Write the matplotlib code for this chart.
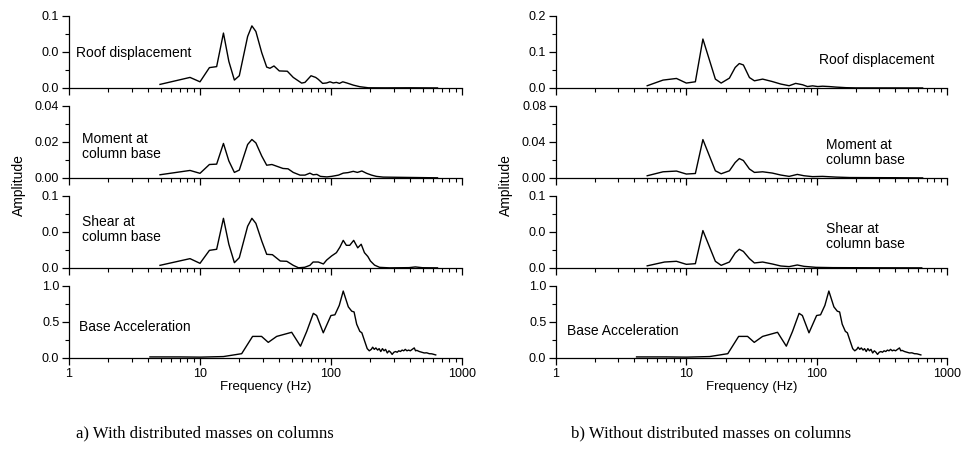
import matplotlib as mpl
mpl.use('Agg')
import matplotlib.pyplot as plt
import numpy as np
from matplotlib.ticker import FixedLocator, FixedFormatter, NullFormatter, LogLocator

plt.rcParams['font.family'] = ['Liberation Sans', 'DejaVu Sans']

# ---- a) with distributed masses on columns ----
roof_a_f = [4.95, 8.39, 10.0, 11.8, 13.4, 15.1, 16.6, 18.3, 19.95, 23.1, 24.9, 26.7, 29.6, 32.3, 34.2,
            36.7, 40.3, 46.4, 51.5, 59.7, 63.3, 70.4, 76.4, 80.0, 86.3, 92.6, 98.2, 104, 110, 116, 123,
            132, 148, 166, 193, 260, 400, 650]
roof_a_amp = [0.005, 0.0147, 0.0086, 0.0283, 0.0297, 0.0763, 0.037, 0.011, 0.017, 0.0716, 0.0863, 0.0785,
              0.049, 0.029, 0.0274, 0.0306, 0.0237, 0.0233, 0.0147, 0.0068, 0.0078, 0.017, 0.0147, 0.012,
              0.0064, 0.007, 0.0086, 0.007, 0.0078, 0.0064, 0.0086, 0.007, 0.004, 0.0018, 0.0003, 0.0002,
              0.0003, 0.0001]

moment_a_f = [4.95, 8.39, 10.0, 11.8, 13.4, 15.1, 16.6, 18.3, 19.95, 23.1, 24.9, 26.7, 29.6, 32.3, 35.4,
              39, 43, 47, 51.5, 58, 63.3, 69, 73, 78, 83, 93, 101, 114, 124, 135, 148, 159, 172, 187,
              204, 222, 250, 400, 650]
moment_a_amp = [0.0018, 0.0042, 0.0026, 0.0075, 0.0077, 0.0192, 0.0095, 0.0031, 0.0044, 0.0186, 0.0214,
                0.0195, 0.0122, 0.0071, 0.0075, 0.0064, 0.0053, 0.0051, 0.0031, 0.0016, 0.0016, 0.0027,
                0.0018, 0.002, 0.0009, 0.0006, 0.0009, 0.0016, 0.0027, 0.003, 0.0037, 0.0031, 0.0039,
                0.0026, 0.0016, 0.0009, 0.0005, 0.0003, 0.0001]

shear_a_f = [4.95, 8.39, 10.0, 11.8, 13.4, 15.1, 16.6, 18.3, 19.95, 23.1, 24.9, 26.7, 29.6, 32.3, 35.7,
             41, 46, 51.5, 56.5, 63, 69, 73, 80, 87.5, 92.6, 101, 110, 117, 124, 131, 139, 149, 160,
             170, 180, 191, 200, 215, 235, 280, 395, 440, 500, 650]
shear_a_amp = [0.0037, 0.013, 0.0065, 0.0245, 0.026, 0.069, 0.033, 0.0074, 0.0143, 0.058, 0.069, 0.062,
               0.0375, 0.019, 0.0185, 0.0097, 0.0093, 0.0037, 0.0003, 0.001, 0.0037, 0.0083, 0.0083,
               0.0056, 0.011, 0.0167, 0.0213, 0.029, 0.0384, 0.0315, 0.0315, 0.0384, 0.028, 0.033,
               0.0213, 0.016, 0.0097, 0.004, 0.0009, 0.0002, 0.0005, 0.0015, 0.0004, 0.0002]

# base acceleration (same input for both models)
base_f = [4.15, 7.0, 10.0, 15.1, 20.8, 25.2, 29.5, 33.2, 38.5, 50.1, 58.5, 65.3, 73.3, 77.7, 87.3, 99.9,
          107.1, 115.6, 124, 135.6, 144, 150, 157, 166, 172, 181, 189, 196, 203, 208, 214, 220, 227, 233,
          240, 247, 254, 261, 269, 277, 285, 293, 302, 311, 320, 329, 339, 349, 359, 369, 380, 391, 403,
          417, 432, 442, 452, 472, 493, 515, 538, 562, 588, 610, 630]
base_amp = [0.015, 0.015, 0.012, 0.02, 0.06, 0.3, 0.3, 0.217, 0.3, 0.357, 0.164, 0.37, 0.62, 0.59, 0.35,
            0.59, 0.60, 0.73, 0.93, 0.71, 0.65, 0.64, 0.47, 0.37, 0.35, 0.23, 0.13, 0.1, 0.12, 0.15, 0.12,
            0.14, 0.11, 0.13, 0.09, 0.13, 0.1, 0.12, 0.07, 0.1, 0.08, 0.05, 0.08, 0.09, 0.08, 0.1, 0.09,
            0.11, 0.1, 0.12, 0.1, 0.11, 0.1, 0.12, 0.14, 0.1, 0.106, 0.09, 0.08, 0.07, 0.072, 0.06, 0.058,
            0.05, 0.043]

# ---- b) without distributed masses on columns ----
roof_b_f = [5.01, 6.63, 8.40, 10.0, 11.73, 13.4, 16.7, 18.5, 21.4, 23.7, 25.5, 27.4, 30.5, 33.3, 38.5,
            45.6, 53, 61.5, 69, 78, 85, 93, 102, 111, 125, 141, 168, 200, 400, 650]
roof_b_amp = [0.0063, 0.022, 0.0265, 0.0137, 0.0173, 0.136, 0.0247, 0.0137, 0.0274, 0.057, 0.068, 0.064,
              0.029, 0.02, 0.0247, 0.018, 0.011, 0.0063, 0.0128, 0.009, 0.004, 0.006, 0.004, 0.005,
              0.004, 0.0025, 0.0009, 0.0003, 0.0002, 0.0001]

moment_b_f = [5.01, 6.63, 8.40, 10.0, 11.73, 13.4, 16.7, 18.5, 21.4, 23.7, 25.5, 27.4, 30.5, 33.3, 38.5,
              45.6, 53, 61.5, 71, 80, 93, 111, 141, 180, 400, 650]
moment_b_amp = [0.0025, 0.0069, 0.0077, 0.0044, 0.005, 0.0427, 0.008, 0.0047, 0.008, 0.0172, 0.0216,
                0.0194, 0.01, 0.0062, 0.0069, 0.0055, 0.0033, 0.0018, 0.004, 0.0025, 0.0015, 0.0018,
                0.001, 0.0005, 0.0003, 0.0001]

shear_b_f = [5.01, 6.8, 8.4, 10.0, 11.73, 13.4, 16.7, 18.5, 21.4, 23.7, 25.5, 27.4, 30.5, 33.3, 38.5,
             45.6, 53, 61.5, 71, 80, 99, 133, 300, 640]
shear_b_amp = [0.003, 0.0083, 0.0093, 0.0051, 0.006, 0.052, 0.0093, 0.0037, 0.0083, 0.0208, 0.026, 0.023,
               0.013, 0.007, 0.0083, 0.0056, 0.0028, 0.0019, 0.0042, 0.0023, 0.0009, 0.0005, 0.0003,
               0.0002]

# y ticks per panel (values, labels as printed in the original)
yticks_a = [[0, 0.05, 0.1], [0, 0.02, 0.04], [0, 0.05, 0.1], [0, 0.5, 1.0]]
ylabels_a = [['0.0', '0.0', '0.1'], ['0.00', '0.02', '0.04'], ['0.0', '0.0', '0.1'], ['0.0', '0.5', '1.0']]
yticks_b = [[0, 0.1, 0.2], [0, 0.04, 0.08], [0, 0.05, 0.1], [0, 0.5, 1.0]]
ylabels_b = [['0.0', '0.1', '0.2'], ['0.00', '0.04', '0.08'], ['0.0', '0.0', '0.1'], ['0.0', '0.5', '1.0']]

names = ['Roof displacement', 'Moment at\ncolumn base', 'Shear at\ncolumn base', 'Base Acceleration']

W, H = 964, 450
fig = plt.figure(figsize=(W / 100, H / 100), dpi=100)


def px_axes(x0, x1, top, bottom):
    return fig.add_axes([x0 / W, 1 - bottom / H, (x1 - x0) / W, (bottom - top) / H])


def style(ax, ticks, labels, last):
    ax.set_xscale('log')
    ax.set_xlim(1, 1000)
    ax.set_ylim(ticks[0], ticks[-1])
    for s in ['top', 'right']:
        ax.spines[s].set_visible(False)
    ax.spines['left'].set_linewidth(0.9)
    ax.spines['bottom'].set_linewidth(0.9)
    ax.yaxis.set_major_locator(FixedLocator(ticks))
    ax.yaxis.set_major_formatter(FixedFormatter(labels))
    mids = [(ticks[i] + ticks[i + 1]) / 2 for i in range(len(ticks) - 1)]
    ax.yaxis.set_minor_locator(FixedLocator(mids))
    ax.xaxis.set_major_locator(FixedLocator([1, 10, 100, 1000]))
    ax.xaxis.set_minor_locator(LogLocator(base=10, subs=np.arange(2, 10)))
    ax.xaxis.set_minor_formatter(NullFormatter())
    if last:
        ax.xaxis.set_major_formatter(FixedFormatter(['1', '10', '100', '1000']))
    else:
        ax.xaxis.set_major_formatter(NullFormatter())
    ax.tick_params(which='major', length=5, width=0.9, labelsize=9, pad=2)
    ax.tick_params(which='minor', length=3, width=0.8)


panels_a = [(roof_a_f, roof_a_amp), (moment_a_f, moment_a_amp), (shear_a_f, shear_a_amp), (base_f, base_amp)]
panels_b = [(roof_b_f, roof_b_amp), (moment_b_f, moment_b_amp), (shear_b_f, shear_b_amp), (base_f, base_amp)]

# label positions in pixels (x, y of top-left)
lab_a = [(76, 53), (82, 132), (82, 215), (79, 327)]
lab_b = [(819, 60), (826, 138), (826, 222), (567, 331)]

for col, (x0, x1, panels, yt, yl, labs) in enumerate([
        (69, 462, panels_a, yticks_a, ylabels_a, lab_a),
        (556, 947, panels_b, yticks_b, ylabels_b, lab_b)]):
    for i in range(4):
        top = 16 + 90 * i
        ax = px_axes(x0, x1, top, top + 72)
        f, a = panels[i]
        ax.plot(f, a, color='black', lw=1.0)
        style(ax, yt[i], yl[i], i == 3)
        lx, ly = labs[i]
        va = 'center' if '\n' not in names[i] else 'top'
        fig.text(lx / W, 1 - ly / H, names[i], fontsize=10, va=va, ha='left', linespacing=1.1)
        if i == 3:
            ax.set_xlabel('Frequency (Hz)', fontsize=9.5, labelpad=1)
    fig.text((x0 - 50) / W, 1 - 185 / H, 'Amplitude', rotation=90, fontsize=10, ha='center', va='center')

fig.text(205 / W, 1 - 433 / H, 'a) With distributed masses on columns', family='Liberation Serif',
         fontsize=12, ha='center', va='center')
fig.text(711 / W, 1 - 433 / H, 'b) Without distributed masses on columns', family='Liberation Serif',
         fontsize=12, ha='center', va='center')

fig.savefig('out.png', dpi=100)
